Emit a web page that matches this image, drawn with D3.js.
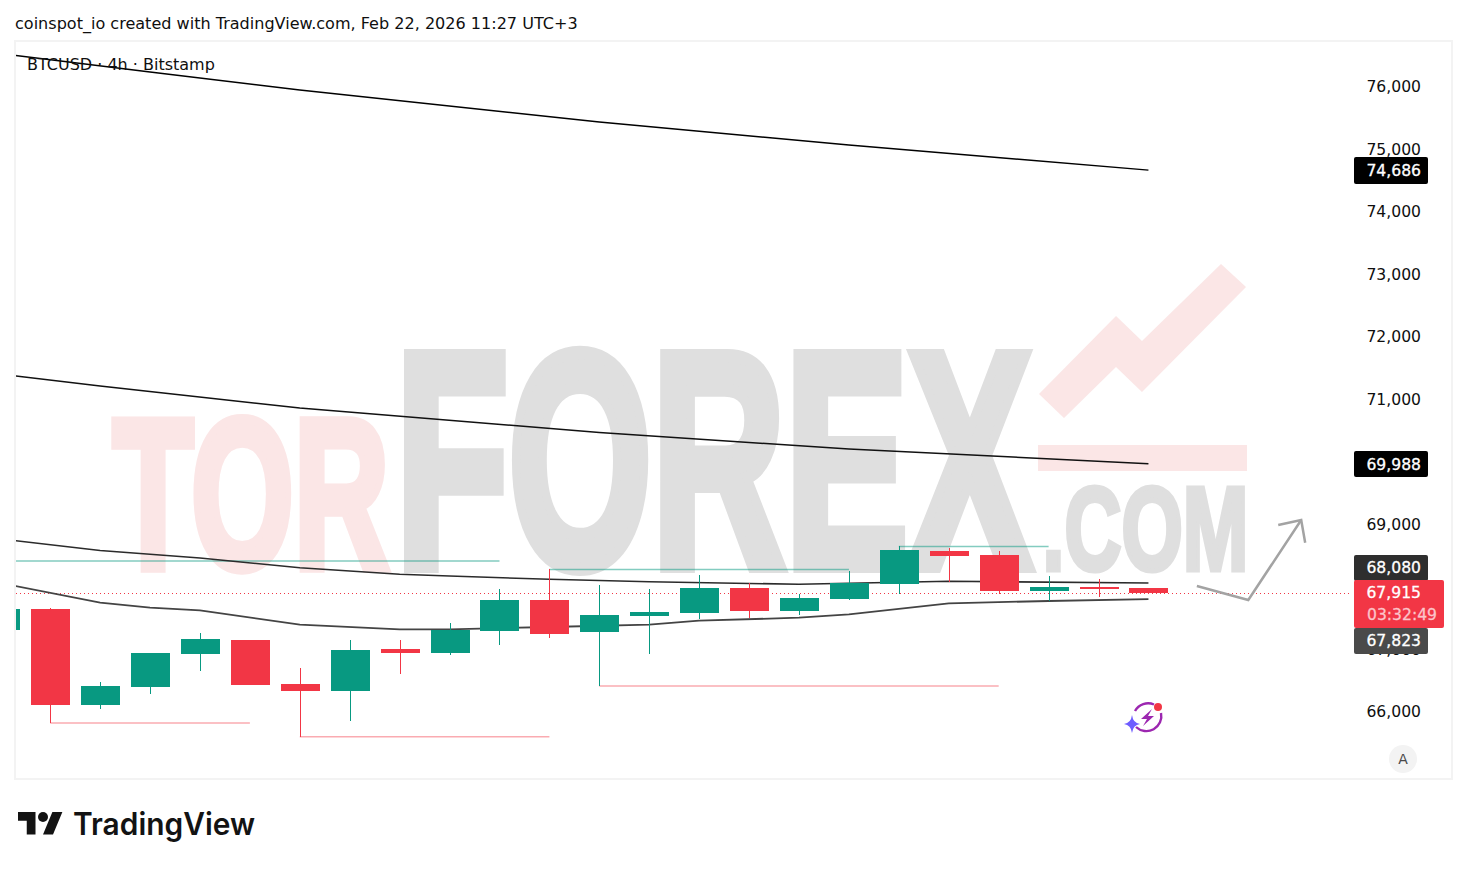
<!DOCTYPE html>
<html>
<head>
<meta charset="utf-8">
<script src="https://d3js.org/d3.v7.min.js"></script>
<style>
    body { margin: 0; background: #fff; }
    text { font-family: "DejaVu Sans", sans-serif; fill: #0f0f0f; }
    .axis text { font-size: 15.6px; }
    .day text { stroke: #0f0f0f; stroke-width: 0.35px; }
</style>
</head>
<body>
<svg id="chart" width="1467" height="869"></svg>
<script>
// bar index -1 is the clipped candle on the left edge
const barIndex = [-1, 0, 1, 2, 3, 4, 5, 6, 7, 8, 9, 10, 11, 12, 13, 14, 15, 16, 17, 18, 19, 20, 21, 22];
const opens  = [67328, 67664, 66128, 66416, 66944, 67168, 66464, 66352, 67024, 66960, 67312, 67808, 67296, 67552, 67600, 68000, 67632, 67824, 68064, 68592, 68528, 67952, 68016, 68000];
const highs  = [67664, 67685, 66496, 66960, 67280, 67168, 66720, 67168, 67168, 67440, 67984, 68304, 68048, 67984, 68208, 68080, 67904, 68277, 68672, 68640, 68592, 68192, 68144, 68000];
const lows   = [67328, 65840, 66064, 66304, 66672, 66448, 65621, 65872, 66624, 66928, 67088, 67200, 66432, 66944, 67504, 67520, 67568, 67808, 67904, 68096, 67904, 67792, 67856, 67915];
const closes = [67664, 66128, 66432, 66960, 67184, 66448, 66352, 67008, 66960, 67328, 67808, 67264, 67568, 67616, 68000, 67632, 67840, 68080, 68608, 68512, 67952, 68016, 67984, 67915];

// moving averages, read at their bends
const lineA = { bars: [-1, 2, 5, 11, 16, 22], prices: [76549, 76256, 75968, 75456, 75088, 74686] };
const lineB = { bars: [-1, 1, 5, 11, 16, 22], prices: [71424, 71232, 70880, 70488, 70224, 69988] };
const lineC = { bars: [-1, 1, 3, 5, 7, 8, 10, 12, 15, 16, 18, 22], prices: [68784, 68600, 68480, 68325, 68219, 68192, 68139, 68101, 68059, 68075, 68107, 68080] };
const lineD = { bars: [-1, 1, 2, 3, 5, 7, 8, 10, 12, 13, 15, 16, 18, 20, 22], prices: [68080, 67765, 67685, 67643, 67413, 67339, 67339, 67376, 67413, 67477, 67525, 67579, 67755, 67792, 67823] };

// swing levels [from bar, to bar, price]
const highLevels = [[-1, 9, 68432], [10, 16, 68296], [17, 20, 68664]];
const lowLevels  = [[0, 4, 65840], [5, 10, 65621], [11, 19, 66432]];

// hand drawn arrow, bar / price
const arrowBars = [22.97, 24, 25.06];
const arrowPrices = [68032, 67808, 69088];
const arrowHeadBars = [24.6, 25.06, 25.14];
const arrowHeadPrices = [69008, 69088, 68725];

const priceTicks = [76000, 75000, 74000, 73000, 72000, 71000, 70000, 69000, 68000, 67000, 66000];
const timeTicks = [-1, 2, 5, 8, 11, 14, 17, 20, 23, 25];
const timeLabels = ['15:00', '19', '15:00', '20', '15:00', '21', '15:00', '22', '15:00', '23:00'];
const lastPrice = 67915;

const upColor = '#089981', downColor = '#f23645';

const svg = d3.select('#chart');
const x = d3.scaleLinear().domain([-1, 25]).range([0.28, 1298.2]);
const y = d3.scaleLinear().domain([76000, 66000]).range([88, 713]);

svg.append('defs').append('clipPath').attr('id', 'plot')
    .append('rect').attr('x', 16).attr('y', 42).attr('width', 1436).attr('height', 737);

// frame
svg.append('rect').attr('x', 15).attr('y', 41).attr('width', 1437).attr('height', 738)
    .attr('fill', 'none').attr('stroke', '#f3f3f3').attr('stroke-width', 2);

// watermark
function drawWatermark() {
    const wm = svg.append('g').attr('class', 'watermark');
    const pink = '#fbe6e6', grey = '#dfdfdf';
    const word = (txt, left, right, top, base, color) => {
        const sw = (base - top) * 0.06;
        const fs = (base - top - sw) / 0.688; // cap height of Liberation Narrow
        wm.append('text').text(txt)
            .attr('x', left + sw / 2).attr('y', base - sw / 2)
            .attr('textLength', right - left - sw).attr('lengthAdjust', 'spacingAndGlyphs')
            .style('font-family', '"Liberation Sans Narrow", "Liberation Sans", sans-serif')
            .style('font-weight', 700).style('font-size', fs + 'px').style('fill', color)
            .style('stroke', color).style('stroke-width', sw + 'px');
    };
    word('TOR', 108, 394, 417, 573, pink);
    word('FOREX', 389, 1038, 349, 573, grey);
    word('.COM', 1040, 1251, 486, 573, grey);
    wm.append('polygon').attr('fill', pink)
        .attr('points', '1039,394 1116,316 1142,341 1221,264 1246,287 1142,392 1116,367 1064,418');
    wm.append('rect').attr('x', 1038).attr('y', 445).attr('width', 209).attr('height', 26).attr('fill', pink);
}
drawWatermark();

const plot = svg.append('g').attr('clip-path', 'url(#plot)');

// levels
const drawLevels = (levels, color) => {
    plot.selectAll(null).data(levels).join('line')
        .attr('x1', d => x(d[0])).attr('x2', d => x(d[1]))
        .attr('y1', d => y(d[2])).attr('y2', d => y(d[2]))
        .attr('stroke', color).attr('stroke-width', 1.5);
};
drawLevels(highLevels, 'rgba(8,153,129,0.5)');
drawLevels(lowLevels, 'rgba(242,54,69,0.42)');

// last price line
plot.append('line').attr('x1', 16).attr('x2', 1352)
    .attr('y1', Math.round(y(lastPrice)) + 0.5).attr('y2', Math.round(y(lastPrice)) + 0.5)
    .attr('stroke', downColor).attr('stroke-dasharray', '1 3');

// moving averages
const maLine = d3.line().x(d => x(d[0])).y(d => y(d[1]));
const drawMa = (ma, color, width) => {
    plot.append('path').datum(d3.zip(ma.bars, ma.prices))
        .attr('d', maLine).attr('fill', 'none')
        .attr('stroke', color).attr('stroke-width', width);
};
drawMa(lineA, '#000', 1.5);
drawMa(lineB, '#111', 1.5);
drawMa(lineC, '#2b2b2b', 1.6);
drawMa(lineD, '#444', 1.8);

// candles
const candles = barIndex.map((b, i) => ({ b, o: opens[i], h: highs[i], l: lows[i], c: closes[i] }));
const candleColor = d => d.c >= d.o ? upColor : downColor;
const bars = plot.selectAll('g.candle').data(candles).join('g').attr('class', 'candle')
    .attr('shape-rendering', 'crispEdges');
bars.append('rect').attr('x', d => Math.round(x(d.b))).attr('width', 1)
    .attr('y', d => y(d.h)).attr('height', d => y(d.l) - y(d.h)).attr('fill', candleColor);
bars.append('rect').attr('x', d => Math.round(x(d.b)) - 19).attr('width', 39)
    .attr('y', d => y(Math.max(d.o, d.c))).attr('height', d => Math.abs(y(d.o) - y(d.c)))
    .attr('fill', candleColor);

// arrow
const arrowLine = d3.line().x(d => x(d[0])).y(d => y(d[1]));
[d3.zip(arrowBars, arrowPrices), d3.zip(arrowHeadBars, arrowHeadPrices)].forEach(pts => {
    plot.append('path').datum(pts).attr('d', arrowLine).attr('fill', 'none')
        .attr('stroke', '#a3a3a3').attr('stroke-width', 2.5);
});

// axes
const priceAxis = d3.axisRight(y).tickValues(priceTicks).tickSize(0).tickPadding(0)
    .tickFormat(d3.format(','));
const gy = svg.append('g').attr('class', 'axis').attr('transform', 'translate(1421,0)').call(priceAxis);
gy.select('.domain').remove();
gy.selectAll('text').attr('text-anchor', 'end').attr('x', 0).attr('dy', '0.32em')
    .attr('transform', 'translate(0,-1.5)');

const timeAxis = d3.axisBottom(x).tickValues(timeTicks).tickSize(0).tickPadding(0)
    .tickFormat((d, i) => timeLabels[i]);
const gx = svg.append('g').attr('class', 'axis').attr('clip-path', 'url(#plot)')
    .attr('transform', 'translate(0,750)').call(timeAxis);
gx.select('.domain').remove();
gx.selectAll('.tick').classed('day', (d, i) => timeLabels[i].length === 2);

// price labels on the scale
const tag = (top, bottom, right, color) => svg.append('rect')
    .attr('x', 1354).attr('y', top).attr('width', right - 1354).attr('height', bottom - top)
    .attr('rx', 2).attr('fill', color);
const tagText = (txt, cy, color) => svg.append('text').text(txt)
    .attr('x', 1421).attr('y', cy).attr('dy', '0.36em').attr('text-anchor', 'end')
    .style('font-size', '15.6px').style('fill', color)
    .style('stroke', color).style('stroke-width', '0.3px');
tag(157, 184, 1428, '#000'); tagText('74,686', 170, '#fff');
tag(451, 477, 1428, '#000'); tagText('69,988', 464, '#fff');
tag(555, 581, 1428, '#2e2e2e'); tagText('68,080', 567.5, '#fff');
tag(628, 654, 1428, '#4a4a4a'); tagText('67,823', 640, '#fff');
tag(580, 628, 1444, downColor); tagText('67,915', 592.5, '#fff');
svg.append('text').text('03:32:49').attr('x', 1367).attr('y', 614).attr('dy', '0.36em')
    .style('font-size', '15.6px').style('fill', '#fcc4c9')
    .style('stroke', '#fcc4c9').style('stroke-width', '0.3px');

// auto button
svg.append('circle').attr('cx', 1403).attr('cy', 759).attr('r', 14).attr('fill', '#f3f3f3');
svg.append('text').text('A').attr('x', 1403).attr('y', 759).attr('dy', '0.36em')
    .attr('text-anchor', 'middle').style('font-size', '14px').style('fill', '#4a4a4a');

// titles
svg.append('text').text('coinspot_io created with TradingView.com, Feb 22, 2026 11:27 UTC+3')
    .attr('x', 15).attr('y', 29).style('font-size', '16.06px');
svg.append('text').text('BTCUSD · 4h · Bitstamp')
    .attr('x', 27).attr('y', 70).style('font-size', '16px');

// flash icon
const icon = svg.append('g').attr('transform', 'translate(1147,718)');
icon.append('path').attr('d', 'M-12,-7 A15,15 0 0 1 7,-13.5 M14,-5 A15,15 0 0 1 -11,9')
    .attr('fill', 'none').attr('stroke', '#9c27b0').attr('stroke-width', 2.4);
icon.append('path').attr('d', 'M5,-9 L-6,1 L0,1 L-4,8 L7,-2 L1,-2 Z').attr('fill', '#9c27b0');
icon.append('path').attr('d', 'M-15,-3 Q-14,5 -7,6 Q-14,7 -15,15 Q-16,7 -23,6 Q-16,5 -15,-3 Z').attr('fill', '#6e5cff');
icon.append('circle').attr('cx', 11).attr('cy', -11).attr('r', 4).attr('fill', downColor);

// TradingView logo
const logo = svg.append('g').attr('transform', 'translate(18,807) scale(1.25)');
logo.append('path').attr('d', 'M14 22H7V11H0V4h14v18zM28 22h-8l7.5-18h8L28 22z').attr('fill', '#131313');
logo.append('circle').attr('cx', 20).attr('cy', 8).attr('r', 4).attr('fill', '#131313');
svg.append('text').text('TradingView').attr('x', 73).attr('y', 835)
    .attr('textLength', 182).attr('lengthAdjust', 'spacingAndGlyphs')
    .style('font-family', 'Inter, sans-serif').style('font-weight', 600)
    .style('font-size', '31px').style('fill', '#131313');
</script>
</body>
</html>
